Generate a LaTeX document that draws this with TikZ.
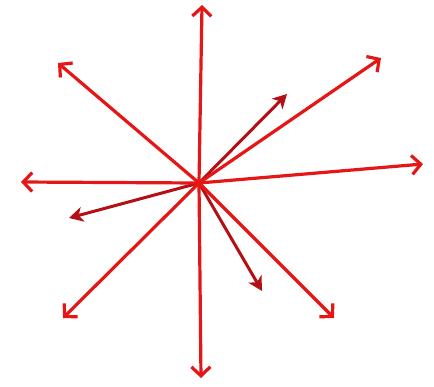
\documentclass[tikz,border=0pt]{standalone}
\usetikzlibrary{arrows.meta}
\definecolor{rayred}{RGB}{228,22,22}
\definecolor{raydark}{RGB}{178,16,20}
\tikzset{
  ray/.style={draw=rayred, line width=3.2pt, line cap=round, -{Straight Barb[length=9pt,width=19pt,line width=3.2pt]}},
  darkray/.style={draw=raydark, line width=3pt, line cap=round, -{Stealth[length=14pt,width=15pt,inset=4pt]}}
}
\begin{document}
\begin{tikzpicture}[x=1pt,y=-1pt]
\useasboundingbox (0,0) rectangle (434,386);
\coordinate (c) at (199,183);
\coordinate (up) at (202,5);
\coordinate (down) at (201,378);
\coordinate (left) at (21,182);
\coordinate (right) at (423,164);
\coordinate (ul) at (58,63);
\coordinate (ur) at (381,58);
\coordinate (ll) at (63,318);
\coordinate (lr) at (334,318);
\coordinate (dur) at (287,94);
\coordinate (dll) at (69,218);
\coordinate (dlr) at (262,291);
\draw[darkray] (c) -- (dur);
\draw[darkray] (c) -- (dll);
\draw[darkray] (c) -- (dlr);
\draw[ray] (c) -- (up);
\draw[ray] (c) -- (down);
\draw[ray] (c) -- (left);
\draw[ray] (c) -- (right);
\draw[ray] (c) -- (ul);
\draw[ray] (c) -- (ur);
\draw[ray] (c) -- (ll);
\draw[ray] (c) -- (lr);
\end{tikzpicture}
\end{document}
